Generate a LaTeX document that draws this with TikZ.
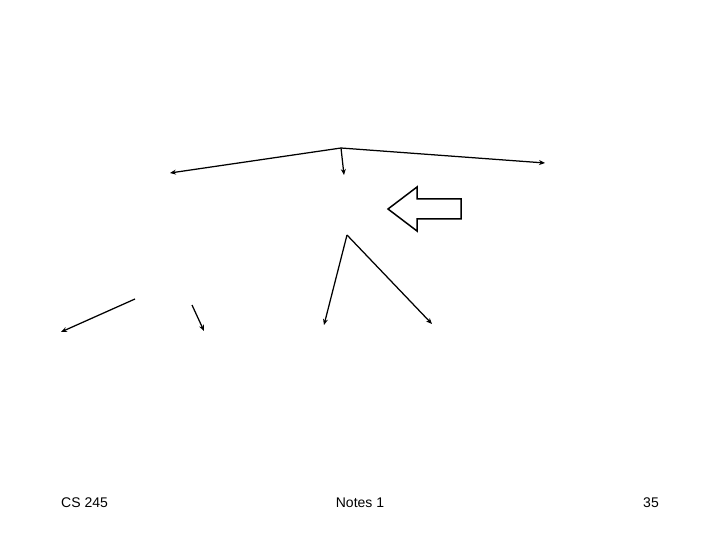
\documentclass[tikz,border=0pt]{standalone}
\usepackage{fontspec}
\setmainfont{Liberation Sans}
\usepackage{tikz}
\usetikzlibrary{arrows.meta,positioning,calc}

\begin{document}
\begin{tikzpicture}[x = 1pt, y = -1pt,
  link/.style = {-{Stealth[length=6pt, width=5pt]}, line width = 1.25pt},
  foot/.style = {font = \fontsize{14}{16}\selectfont, inner sep = 0pt}]
  \useasboundingbox (0,0) rectangle (720,540);
  % upper tree
  \coordinate (top) at (341,148);
  \coordinate (topl) at (170,173);
  \coordinate (topm) at (344,175);
  \coordinate (topr) at (545,163);
  \draw[link] (top) -- (topl);
  \draw[link] (top) -- (topm);
  \draw[link] (top) -- (topr);
  % block arrow
  \draw[line width = 1.5pt, line join = miter] (388,209) -- (417,187) -- (417,199) -- (461,199)
    -- (461,219) -- (417,219) -- (417,231) -- cycle;
  % lower tree
  \coordinate (low) at (347,235);
  \coordinate (lowl) at (324,325);
  \coordinate (lowr) at (432,324);
  \draw[link] (low) -- (lowl);
  \draw[link] (low) -- (lowr);
  % loose arrows
  \coordinate (ea) at (135,299);
  \coordinate (eb) at (61,332);
  \coordinate (fa) at (192,305);
  \coordinate (fb) at (204,331);
  \draw[link] (ea) -- (eb);
  \draw[link] (fa) -- (fb);
  % footer
  \node[foot, anchor = west] (course) at (61,503) {CS 245};
  \node[foot] (notes) at (360,503) {Notes 1};
  \node[foot] (page) at (651,503) {35};
\end{tikzpicture}
\end{document}
